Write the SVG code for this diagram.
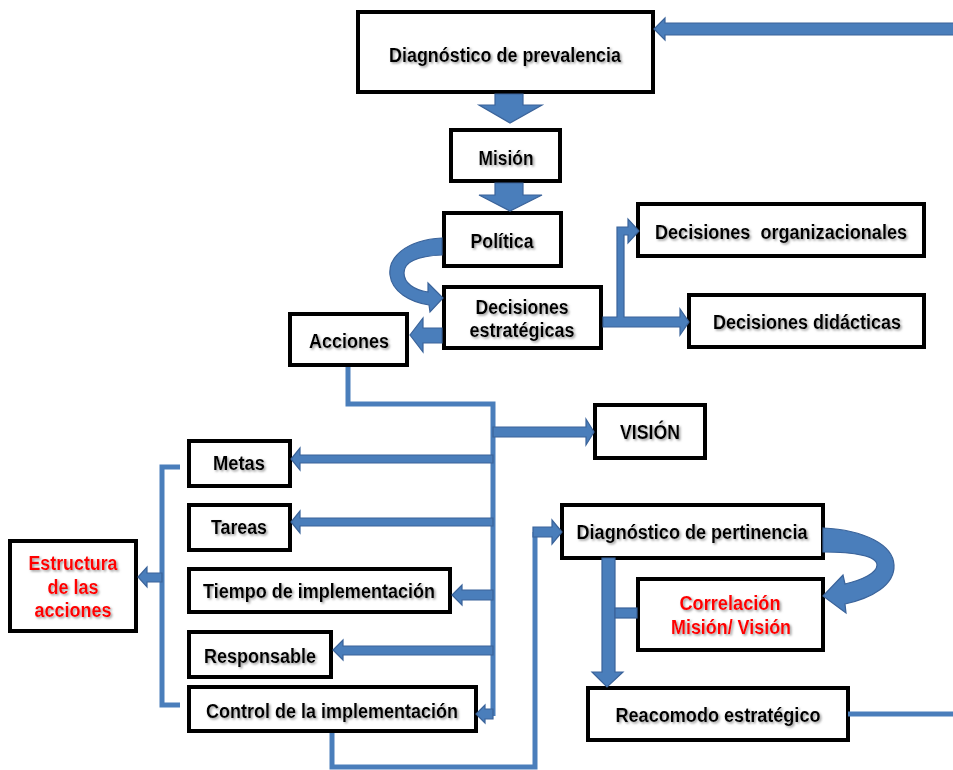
<svg xmlns="http://www.w3.org/2000/svg" width="953" height="770" viewBox="0 0 953 770">
<defs>
<filter id="sh" x="-10%" y="-30%" width="120%" height="160%">
<feDropShadow dx="1.5" dy="1.5" stdDeviation="1.2" flood-color="#777" flood-opacity="0.75"/>
</filter>
<style>
.box{fill:#fff;stroke:#000;stroke-width:4}
.t{font-family:"Liberation Sans",Arial,sans-serif;font-weight:bold;font-size:19.5px;fill:#000;text-anchor:middle;filter:url(#sh)}
.r{fill:#ff0000}
.ba{fill:#4a7ebb;stroke:#3a639a;stroke-width:1.2;stroke-linejoin:miter}
.ln{fill:none;stroke:#4a7ebb;stroke-width:5;stroke-linejoin:miter}
</style>
</defs>
<rect width="953" height="770" fill="#fff"/>
<g id="nodes">
<g id="diag_prev"><rect class="box" x="358" y="12" width="295" height="80"/><text class="t" x="505" y="62" textLength="232" lengthAdjust="spacingAndGlyphs">Diagnóstico de prevalencia</text></g>
<g id="mision"><rect class="box" x="451" y="130" width="109" height="51"/><text class="t" x="506" y="165" textLength="55" lengthAdjust="spacingAndGlyphs">Misión</text></g>
<g id="politica"><rect class="box" x="444" y="213" width="117" height="53"/><text class="t" x="502" y="248" textLength="63" lengthAdjust="spacingAndGlyphs">Política</text></g>
<g id="dec_estr"><rect class="box" x="444" y="287" width="157" height="61"/><text class="t" x="522" y="314" textLength="93" lengthAdjust="spacingAndGlyphs">Decisiones</text><text class="t" x="522" y="337" textLength="105" lengthAdjust="spacingAndGlyphs">estratégicas</text></g>
<g id="acciones"><rect class="box" x="290" y="314" width="117" height="51"/><text class="t" x="349" y="348" textLength="80" lengthAdjust="spacingAndGlyphs">Acciones</text></g>
<g id="dec_org"><rect class="box" x="638" y="204" width="286" height="52"/><text class="t" x="781" y="239" textLength="252" lengthAdjust="spacingAndGlyphs" xml:space="preserve">Decisiones  organizacionales</text></g>
<g id="dec_did"><rect class="box" x="689" y="295" width="235" height="52"/><text class="t" x="807" y="329" textLength="188" lengthAdjust="spacingAndGlyphs">Decisiones didácticas</text></g>
<g id="vision"><rect class="box" x="595" y="405" width="110" height="53"/><text class="t" x="650" y="439" textLength="60" lengthAdjust="spacingAndGlyphs">VISIÓN</text></g>
<g id="metas"><rect class="box" x="189" y="441" width="101" height="45"/><text class="t" x="239" y="470" textLength="52" lengthAdjust="spacingAndGlyphs">Metas</text></g>
<g id="tareas"><rect class="box" x="189" y="505" width="101" height="45"/><text class="t" x="239" y="534" textLength="56" lengthAdjust="spacingAndGlyphs">Tareas</text></g>
<g id="tiempo"><rect class="box" x="189" y="569" width="261" height="43"/><text class="t" x="319" y="598" textLength="232" lengthAdjust="spacingAndGlyphs">Tiempo de implementación</text></g>
<g id="responsable"><rect class="box" x="189" y="632" width="142" height="45"/><text class="t" x="260" y="663" textLength="112" lengthAdjust="spacingAndGlyphs">Responsable</text></g>
<g id="control"><rect class="box" x="189" y="687" width="287" height="44"/><text class="t" x="332" y="718" textLength="252" lengthAdjust="spacingAndGlyphs">Control de la implementación</text></g>
<g id="estructura"><rect class="box" x="10" y="541" width="126" height="90"/><text class="t r" x="73" y="570" textLength="89" lengthAdjust="spacingAndGlyphs">Estructura</text><text class="t r" x="73" y="594" textLength="51" lengthAdjust="spacingAndGlyphs">de las</text><text class="t r" x="73" y="617" textLength="77" lengthAdjust="spacingAndGlyphs">acciones</text></g>
<g id="diag_pert"><rect class="box" x="562" y="505" width="261" height="53"/><text class="t" x="692" y="539" textLength="231" lengthAdjust="spacingAndGlyphs">Diagnóstico de pertinencia</text></g>
<g id="correlacion"><rect class="box" x="638" y="579" width="185" height="71"/><text class="t r" x="730" y="610" textLength="101" lengthAdjust="spacingAndGlyphs">Correlación</text><text class="t r" x="731" y="634" textLength="120" lengthAdjust="spacingAndGlyphs">Misión/ Visión</text></g>
<g id="reacomodo"><rect class="box" x="588" y="688" width="260" height="52"/><text class="t" x="718" y="722" textLength="205" lengthAdjust="spacingAndGlyphs">Reacomodo estratégico</text></g>
</g>
<g id="connectors">
<polygon class="ba" points="955,23 665,23 665,18 654,29 665,40 665,35 955,35"/>
<polygon class="ba" points="495,94 523,94 523,105 542,105 510,123 479,105 495,105"/>
<polygon class="ba" points="495,183 523,183 523,195 542,195 510,211 479,195 495,195"/>
<path class="ba" d="M442,238 C405,240 388,258 390,275 C392,292 410,302 429,305 L430,312 L443,298 L428,283 L428,292 C414,290 404,283 404,273 C404,262 418,256 442,255 Z"/>
<polygon class="ba" points="442,328 423,328 423,318 410,335 423,352 423,343 442,343"/>
<polygon class="ba" points="603,317 617,317 617,227 628,227 628,219 639,231 628,243 628,235 624,235 624,317 680,317 680,309 689,322 680,335 680,327 603,327"/>
<polyline class="ln" points="348,367 348,404 493,404 493,716"/>
<polygon class="ba" points="493,427 586,427 586,419 594,432 586,445 586,437 493,437"/>
<polygon class="ba" points="493,455 300,455 300,448 291,459 300,470 300,463 493,463"/>
<polygon class="ba" points="493,518 300,518 300,511 291,522 300,533 300,526 493,526"/>
<polygon class="ba" points="493,590 462,590 462,585 452,595 462,605 462,600 493,600"/>
<polygon class="ba" points="493,646 343,646 343,640 333,650 343,660 343,655 493,655"/>
<polygon class="ba" points="493,709 485,709 485,705 476,714 485,723 485,719 493,719"/>
<polyline class="ln" points="180,467 162,467 162,705 180,705"/>
<polygon class="ba" points="162,573 147,573 147,567 138,577 147,587 147,582 162,582"/>
<polyline class="ln" points="332,733 332,767 535,767 535,532"/>
<polygon class="ba" points="533,527 552,527 552,520 562,532 552,544 552,537 533,537"/>
<path class="ba" d="M823,528 C865,530 893,545 894,565 C895,585 872,598 845,604 L846,613 L823,596 L843,575 L845,584 C862,580 877,573 877,565 C877,556 855,552 823,552 Z"/>
<polygon class="ba" points="602,558 615,558 615,672 623,672 607,687 592,672 602,672"/>
<rect class="ba" x="615" y="608" width="22" height="10"/>
<line class="ln" x1="848" y1="714" x2="955" y2="714" stroke-width="6"/>
</g>
</svg>
